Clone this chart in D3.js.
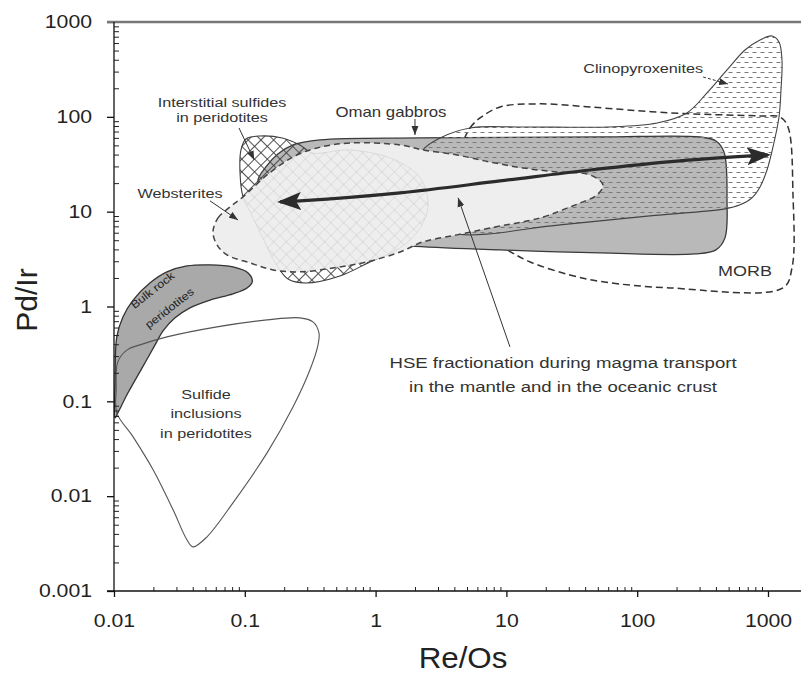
<!DOCTYPE html>
<html>
<head>
<meta charset="utf-8">
<script src="https://cdn.jsdelivr.net/npm/d3@7"></script>
<style>
  html, body { margin: 0; padding: 0; background: #fff; }
  svg { display: block; font-family: "Liberation Sans", Arial, Helvetica, sans-serif; }
</style>
</head>
<body>
<svg id="chart" width="801" height="677"></svg>
<script>
// ---------- axis ticks ----------
const xTicks = [0.01, 0.1, 1, 10, 100, 1000];
const xTickLabels = ["0.01", "0.1", "1", "10", "100", "1000"];
const yTicks = [0.001, 0.01, 0.1, 1, 10, 100, 1000];
const yTickLabels = ["0.001", "0.01", "0.1", "1", "10", "100", "1000"];

// ---------- compositional fields, [Re/Os, Pd/Ir] outline vertices ----------
const sulfideInclusions = [[0.0107,0.261],[0.0126,0.349],[0.0158,0.394],[0.0254,0.478],[0.0613,0.610],[0.148,0.722],[0.264,0.759],[0.332,0.688],[0.369,0.527],[0.363,0.394],[0.315,0.215],[0.234,0.0875],[0.148,0.0286],[0.0812,0.00851],[0.0514,0.00373],[0.0402,0.00292],[0.0361,0.00347],[0.0283,0.00718],[0.0199,0.019],[0.014,0.0422],[0.0105,0.0756],[0.0104,0.132]];

const bulkRockPeridotites = [[0.0105,0.478],[0.0117,0.777],[0.014,1.17],[0.0188,1.77],[0.0254,2.32],[0.0361,2.68],[0.0542,2.75],[0.0812,2.62],[0.106,2.26],[0.114,1.82],[0.104,1.57],[0.0812,1.36],[0.0542,1.17],[0.0381,0.967],[0.0293,0.759],[0.0237,0.553],[0.0206,0.394],[0.0164,0.225],[0.0128,0.123],[0.0107,0.0756],[0.0102,0.067],[0.0102,0.168]];

const websterites = [[0.0571,6.12],[0.0624,8.59],[0.077,11.2],[0.0969,14.3],[0.148,24.4],[0.234,37.8],[0.356,47.0],[0.637,53.0],[1.54,50.5],[2.30,44.8],[4.19,39.6],[7.49,33.4],[13.4,28.9],[24.4,26.2],[43.6,24.4],[54.8,19.1],[49.3,15.0],[38.5,12.7],[30.6,11.2],[18.1,8.59],[7.49,6.74],[4.19,5.69],[2.30,4.80],[1.54,3.76],[0.860,2.95],[0.472,2.55],[0.264,2.32],[0.164,2.43],[0.110,2.88],[0.0731,3.50],[0.0613,4.46]];

const omanGabbros = [[0.126,20.6],[0.145,29.6],[0.179,40.6],[0.234,50.5],[0.376,57.1],[2.19,59.9],[52.0,61.3],[302,61.3],[400,55.7],[461,42.6],[486,13.3],[469,5.29],[400,3.95],[277,3.58],[52.0,3.67],[8.94,3.95],[1.83,4.35],[0.760,5.04],[0.315,7.80],[0.186,12.4]];

const clinopyroxenites = [[2.30,44.8],[3.11,59.9],[5.27,76.3],[12.7,78.2],[58.8,78.2],[142,86.2],[240,110],[342,179],[486,312],[667,507],[869,646],[1073,712],[1214,615],[1279,398],[1257,192],[1214,99.7],[1092,48.1],[983,27.5],[869,18.2],[754,14.0],[611,11.8],[469,10.7],[125,9.02],[25.7,7.25],[4.19,5.83],[2.85,7.80],[2.11,13.3],[1.93,24.4]];

const morb = [[4.58,50.5],[5.27,76.3],[6.29,97.3],[8.94,127],[18.1,137],[43.6,127],[178,110],[869,102],[1235,99.7],[1422,78.2],[1553,15.0],[1526,2.55],[1302,1.57],[178,1.57],[54.8,1.82],[30.6,2.15],[15.2,2.95],[10.1,3.95],[6.29,5.69],[4.58,10.4],[4.12,24.4]];

const interstitialSulfides = [[0.0969,14.3],[0.0919,26.2],[0.0935,44.8],[0.102,58.4],[0.131,62.8],[0.193,59.9],[0.264,50.5],[0.327,41.6],[0.637,44.8],[1.41,35.1],[2.19,22.7],[2.52,11.8],[2.19,6.74],[1.54,4.15],[0.906,2.95],[0.534,2.10],[0.289,1.77],[0.214,1.95],[0.173,2.81],[0.135,5.55],[0.110,9.94]];

// ---------- fractionation trend (double-headed arrow) ----------
const trendPath = [[0.186,12.7],[0.264,13.0],[1.54,15.8],[8.94,21.1],[43.6,27.5],[212,34.3],[1000,39.6]];

// ---------- labels and leader arrows ----------
const fieldLabels = [
  { lines: ["Interstitial sulfides", "in peridotites"], at: [0.067, 127], size: 13.5, lead: 15 },
  { lines: ["Websterites"], at: [0.032, 14.0], size: 13.5, lead: 15 },
  { lines: ["Oman gabbros"], at: [1.31, 100], size: 14, lead: 15 },
  { lines: ["Clinopyroxenites"], at: [111, 290], size: 13.5, lead: 15 },
  { lines: ["MORB"], at: [667, 2.10], size: 15, lead: 15 },
  { lines: ["Sulfide", "inclusions", "in peridotites"], at: [0.0505, 0.106], size: 13.5, lead: 19.5 },
  { lines: ["HSE fractionation during magma transport", "in the mantle and in the oceanic crust"], at: [27.1, 0.225], size: 15.5, lead: 24 }
];
const bulkRockLabel = [
  { text: "Bulk rock", at: [0.0199, 1.46] },
  { text: "peridotites", at: [0.0268, 0.944] }
];
const leaders = [
  { from: [0.0903, 76.3], to: [0.118, 35.1], dashed: false },
  { from: [0.0542, 13.0], to: [0.0887, 8.18], dashed: false },
  { from: [2.00, 94.9], to: [2.00, 64.4], dashed: false },
  { from: [319, 263], to: [495, 222], dashed: true },
  { from: [10.65, 0.375], to: [4.27, 14.0], dashed: false }
];

// ---------- scales ----------
const W = 801, H = 677;
const x = d3.scaleLog().domain([0.01, 1788]).range([114, 801]);
const y = d3.scaleLog().domain([0.001, 1000]).range([591, 22]);

const svg = d3.select("#chart");
const defs = svg.append("defs");

defs.append("clipPath").attr("id", "plotClip")
  .append("rect").attr("x", 114).attr("y", 22).attr("width", W - 114).attr("height", 591 - 22);

function hatch(id, color, width) {
  const p = defs.append("pattern").attr("id", id)
    .attr("patternUnits", "userSpaceOnUse").attr("width", 9).attr("height", 9)
    .attr("patternTransform", "rotate(45)");
  p.append("path").attr("d", "M0,4.5H9M4.5,0V9")
    .attr("stroke", color).attr("stroke-width", width).attr("fill", "none");
}
hatch("hatchDark", "#4a4a4a", 0.9);
hatch("hatchLight", "rgba(0,0,0,0.08)", 0.9);

const dashPat = defs.append("pattern").attr("id", "dashes")
  .attr("patternUnits", "userSpaceOnUse").attr("width", 8).attr("height", 10);
dashPat.append("path").attr("d", "M0.5,2.5H4.5M4.5,7.5H8M0,7.5H0.5")
  .attr("stroke", "#7a7a7a").attr("stroke-width", 1.1).attr("fill", "none");

defs.append("marker").attr("id", "bigHead")
  .attr("markerUnits", "userSpaceOnUse").attr("viewBox", "0 -10 24 20")
  .attr("markerWidth", 24).attr("markerHeight", 20)
  .attr("refX", 21).attr("refY", 0).attr("orient", "auto-start-reverse")
  .append("path").attr("d", "M0,-9L24,0L0,9L5,0Z").attr("fill", "#2b2b2b");

defs.append("marker").attr("id", "smallHead")
  .attr("markerUnits", "userSpaceOnUse").attr("viewBox", "0 -4 9 8")
  .attr("markerWidth", 9).attr("markerHeight", 8)
  .attr("refX", 9).attr("refY", 0).attr("orient", "auto")
  .append("path").attr("d", "M0,-3.5L9,0L0,3.5Z").attr("fill", "#333");

const closed = d3.line().x(d => x(d[0])).y(d => y(d[1]))
  .curve(d3.curveCatmullRomClosed.alpha(0.5));
const open = d3.line().x(d => x(d[0])).y(d => y(d[1]))
  .curve(d3.curveCatmullRom.alpha(0.5));

// ---------- fields ----------
const plot = svg.append("g").attr("clip-path", "url(#plotClip)");

plot.append("path").datum(morb).attr("d", closed)
  .attr("fill", "none").attr("stroke", "#333").attr("stroke-width", 1.5).attr("stroke-dasharray", "7,4");

plot.append("path").datum(omanGabbros).attr("d", closed)
  .attr("fill", "#b9b9b9").attr("stroke", "#3a3a3a").attr("stroke-width", 1.3);

plot.append("path").datum(clinopyroxenites).attr("d", closed)
  .attr("fill", "url(#dashes)").attr("stroke", "#444").attr("stroke-width", 1.1);

plot.append("path").datum(interstitialSulfides).attr("d", closed)
  .attr("fill", "url(#hatchDark)").attr("stroke", "#444").attr("stroke-width", 1.1);

plot.append("path").datum(bulkRockPeridotites).attr("d", closed)
  .attr("fill", "#a9a9a9").attr("stroke", "#333").attr("stroke-width", 1.3);

plot.append("path").datum(websterites).attr("d", closed)
  .attr("fill", "#eeeeee").attr("stroke", "none");

plot.append("path").datum(interstitialSulfides).attr("d", closed)
  .attr("fill", "url(#hatchLight)").attr("stroke", "rgba(0,0,0,0.1)").attr("stroke-width", 0.8);

plot.append("path").datum(websterites).attr("d", closed)
  .attr("fill", "none").attr("stroke", "#444").attr("stroke-width", 1.5).attr("stroke-dasharray", "6,4");

plot.append("path").datum(sulfideInclusions).attr("d", closed)
  .attr("fill", "none").attr("stroke", "#555").attr("stroke-width", 1.1);

// ---------- trend arrow ----------
svg.append("path").datum(trendPath).attr("d", open)
  .attr("fill", "none").attr("stroke", "#2b2b2b").attr("stroke-width", 3.2)
  .attr("marker-start", "url(#bigHead)").attr("marker-end", "url(#bigHead)");

// ---------- leader arrows ----------
svg.selectAll(".leader").data(leaders).join("line").attr("class", "leader")
  .attr("x1", d => x(d.from[0])).attr("y1", d => y(d.from[1]))
  .attr("x2", d => x(d.to[0])).attr("y2", d => y(d.to[1]))
  .attr("stroke", "#333").attr("stroke-width", 1)
  .attr("stroke-dasharray", d => d.dashed ? "3,2" : null)
  .attr("marker-end", "url(#smallHead)");

// ---------- text ----------
const SX = 1.2; // horizontal stretch of the annotation lettering
fieldLabels.forEach(lab => {
  lab.lines.forEach((line, i) => {
    svg.append("text")
      .attr("transform", `translate(${x(lab.at[0])},${y(lab.at[1]) + i * lab.lead}) scale(${SX},1)`)
      .attr("text-anchor", "middle").attr("font-size", lab.size).attr("fill", "#333")
      .text(line);
  });
});
bulkRockLabel.forEach(b => {
  svg.append("text")
    .attr("transform", `translate(${x(b.at[0])},${y(b.at[1])}) rotate(-38) scale(1.15,1)`)
    .attr("text-anchor", "middle").attr("dominant-baseline", "middle")
    .attr("font-size", 11).attr("fill", "#222")
    .text(b.text);
});

// ---------- axes ----------
const xMinor = x.ticks().filter(v => !xTicks.some(t => Math.abs(v - t) / t < 1e-6));
const yMinor = y.ticks().filter(v => !yTicks.some(t => Math.abs(v - t) / t < 1e-6));

const gx = svg.append("g").attr("transform", "translate(0,591)");
gx.call(d3.axisBottom(x).tickValues(xTicks).tickSize(6).tickPadding(17).tickFormat((d, i) => xTickLabels[i]));
gx.call(g => g.select(".domain").remove());
gx.attr("font-size", null).attr("font-family", null);
gx.selectAll("line").attr("stroke", "#111").attr("stroke-width", 1.3);
gx.selectAll("text").attr("font-size", 18).attr("fill", "#222").attr("transform", "scale(1.18,1)");

const gxIn = svg.append("g").attr("transform", "translate(0,591)");
gxIn.call(d3.axisTop(x).tickValues(xTicks).tickSize(5).tickFormat(""));
gxIn.call(d3.axisTop(x).tickValues(xMinor).tickSize(4).tickFormat(""));
gxIn.selectAll(".domain").remove();
gxIn.selectAll("line").attr("stroke", "#222").attr("stroke-width", 1);

const gy = svg.append("g").attr("transform", "translate(114,0)");
gy.call(d3.axisLeft(y).tickValues(yTicks).tickSize(7).tickPadding(15).tickFormat((d, i) => yTickLabels[i]));
gy.call(g => g.select(".domain").remove());
gy.attr("font-size", null).attr("font-family", null);
gy.selectAll("line").attr("stroke", "#111").attr("stroke-width", 1.3);
gy.selectAll("text").attr("font-size", 18).attr("fill", "#222")
  .attr("x", 0).attr("transform", "translate(-22,0) scale(1.18,1)");

const gyIn = svg.append("g").attr("transform", "translate(114,0)");
gyIn.call(d3.axisRight(y).tickValues(yTicks).tickSize(6).tickFormat(""));
gyIn.call(d3.axisRight(y).tickValues(yMinor).tickSize(5).tickFormat(""));
gyIn.selectAll(".domain").remove();
gyIn.selectAll("line").attr("stroke", "#222").attr("stroke-width", 1);

// frame lines
svg.append("line").attr("x1", 107).attr("x2", W).attr("y1", 22).attr("y2", 22)
  .attr("stroke", "#777").attr("stroke-width", 2.5);
svg.append("line").attr("x1", 114).attr("x2", 114).attr("y1", 22).attr("y2", 591)
  .attr("stroke", "#111").attr("stroke-width", 1.3);
svg.append("line").attr("x1", 107).attr("x2", W).attr("y1", 591).attr("y2", 591)
  .attr("stroke", "#111").attr("stroke-width", 1.5);

// axis titles
svg.append("text").attr("transform", "translate(37,300) rotate(-90)")
  .attr("text-anchor", "middle").attr("font-size", 30).attr("fill", "#222").text("Pd/Ir");
svg.append("text").attr("transform", "translate(463,668) scale(1.08,1)")
  .attr("text-anchor", "middle").attr("font-size", 29).attr("fill", "#222").text("Re/Os");
</script>
</body>
</html>
